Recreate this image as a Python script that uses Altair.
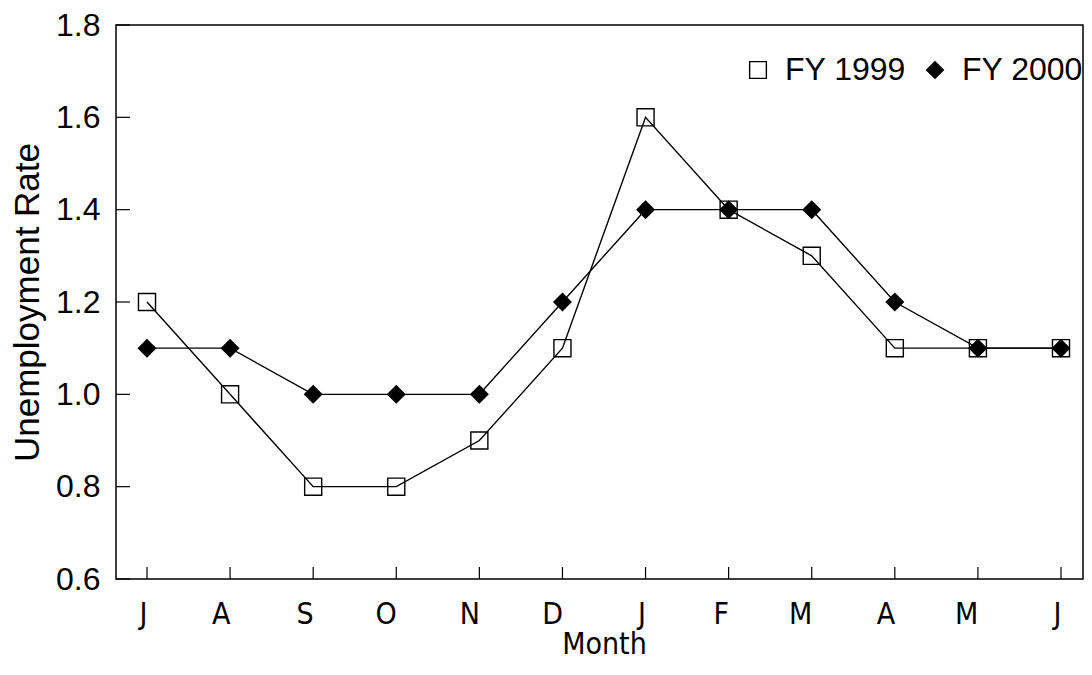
import altair as alt
import pandas as pd

months = ["Jul", "Aug", "Sep", "Oct", "Nov", "Dec", "Jan", "Feb", "Mar", "Apr", "May", "Jun"]
fy1999 = [1.2, 1.0, 0.8, 0.8, 0.9, 1.1, 1.6, 1.4, 1.3, 1.1, 1.1, 1.1]
fy2000 = [1.1, 1.1, 1.0, 1.0, 1.0, 1.2, 1.4, 1.4, 1.4, 1.2, 1.1, 1.1]
series_names = ["FY 1999", "FY 2000"]
y_ticks = [0.6, 0.8, 1.0, 1.2, 1.4, 1.6, 1.8]

rows = []
for name, vals in zip(series_names, [fy1999, fy2000]):
    for i, (m, v) in enumerate(zip(months, vals)):
        rows.append({"month": m, "order": i, "series": name, "rate": v})
df = pd.DataFrame(rows)

W, H = 967, 554
FONT = "Liberation Sans"
NARROW = "Liberation Sans Narrow, Arial Narrow, DejaVu Sans Condensed, Liberation Sans"

x_scale = alt.Scale(type="point", domain=months, range=[31, 945], padding=0)
x_enc = alt.X(
    "month:N",
    sort=months,
    scale=x_scale,
    axis=alt.Axis(
        title="Month",
        labelExpr="substring(datum.label, 0, 1)",
        labelAngle=0,
        labelFont=NARROW,
        labelFontSize=30,
        labelColor="black",
        labelPadding=35,
        titleFont=NARROW,
        titleFontSize=30,
        titleFontWeight="normal",
        titleColor="black",
        titlePadding=0,
        ticks=False,
        tickSize=0,
        domain=False,
        grid=False,
    ),
)
y_scale = alt.Scale(domain=[0.6, 1.8], nice=False, zero=False)
y_enc = alt.Y(
    "rate:Q",
    scale=y_scale,
    axis=alt.Axis(
        title="Unemployment Rate",
        values=y_ticks,
        format=".1f",
        labelFont=FONT,
        labelFontSize=32,
        labelColor="black",
        labelPadding=16,
        titleFont=FONT,
        titleFontSize=35,
        titleFontWeight="normal",
        titleColor="black",
        titlePadding=10,
        ticks=False,
        tickSize=0,
        domain=False,
        grid=False,
    ),
)

legend_kw = dict(
    title=None,
    orient="none",
    legendX=626,
    legendY=29,
    direction="horizontal",
    labelFont=FONT,
    labelFontSize=32,
    labelColor="black",
    labelOffset=11,
    columnPadding=13,
    symbolSize=280,
    symbolStrokeColor="black",
    symbolStrokeWidth=1.4,
    padding=0,
)

base = alt.Chart(df)

lines = base.mark_line(color="black", strokeWidth=1.4).encode(
    x=x_enc, y=y_enc, detail="series:N", order="order:Q"
)

points = base.mark_point(strokeWidth=1.4, opacity=1).encode(
    x=x_enc,
    y=y_enc,
    shape=alt.Shape(
        "series:N",
        scale=alt.Scale(domain=series_names, range=["square", "diamond"]),
        legend=alt.Legend(**legend_kw),
    ),
    fill=alt.Fill(
        "series:N",
        scale=alt.Scale(domain=series_names, range=["rgba(0,0,0,0)", "black"]),
        legend=alt.Legend(**legend_kw),
    ),
    stroke=alt.Stroke(
        "series:N",
        scale=alt.Scale(domain=series_names, range=["black", "black"]),
        legend=alt.Legend(**legend_kw),
    ),
    size=alt.value(290),
)

ytick_df = pd.DataFrame({"rate": y_ticks})
yticks = alt.Chart(ytick_df).mark_rule(color="black", strokeWidth=1.2).encode(
    y=alt.Y("rate:Q", scale=y_scale), x=alt.value(0), x2=alt.value(14)
)

xtick_df = pd.DataFrame({"month": months})
xticks = alt.Chart(xtick_df).mark_rule(color="black", strokeWidth=1.2).encode(
    x=alt.X("month:N", sort=months, scale=x_scale),
    y=alt.value(H),
    y2=alt.value(H - 12),
)

chart = (
    alt.layer(yticks, xticks, lines, points)
    .properties(
        width=W,
        height=H,
        autosize=alt.AutoSizeParams(type="none"),
        padding={"left": 108, "top": 17, "right": 1, "bottom": 81},
        background="white",
    )
    .configure_view(stroke="black", strokeWidth=1.5)
)

chart.save("out.html", embed_options={"renderer": "svg", "actions": False})
